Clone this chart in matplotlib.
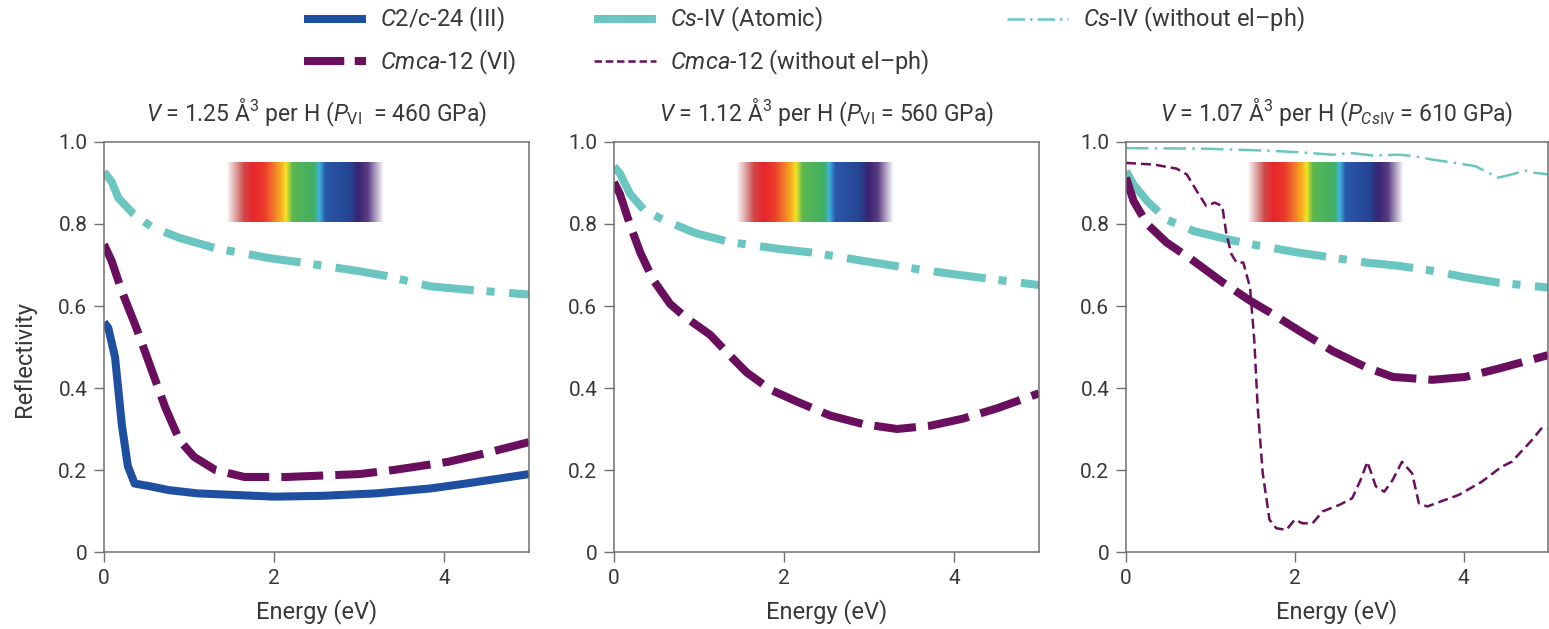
import numpy as np
import matplotlib
matplotlib.use("Agg")
import matplotlib.pyplot as plt
from matplotlib.colors import LinearSegmentedColormap
from matplotlib.lines import Line2D

plt.rcParams['font.family'] = ['Roboto', 'DejaVu Sans']
plt.rcParams['mathtext.fontset'] = 'custom'
plt.rcParams['mathtext.rm'] = 'Roboto'
plt.rcParams['mathtext.it'] = 'Roboto:italic'
plt.rcParams['mathtext.bf'] = 'Roboto:bold'

# ---- data (energy in eV, reflectivity) ----
# panel 1: V = 1.25 A^3 per H
p1_c2c_x = [0, 0.05, 0.13, 0.21, 0.28, 0.36, 0.55, 0.76, 1.1, 2.0, 2.57, 3.2, 3.84, 4.26, 5.0]
p1_c2c_y = [0.56, 0.547, 0.475, 0.31, 0.21, 0.167, 0.16, 0.151, 0.143, 0.135, 0.137, 0.143, 0.155, 0.167, 0.19]
p1_cmca_x = [0, 0.09, 0.21, 0.38, 0.55, 0.72, 0.89, 1.06, 1.31, 1.65, 2.15, 3.0, 3.41, 4.05, 4.47, 5.0]
p1_cmca_y = [0.75, 0.71, 0.636, 0.547, 0.45, 0.353, 0.272, 0.232, 0.2, 0.183, 0.183, 0.19, 0.2, 0.22, 0.24, 0.268]
p1_csiv_x = [0, 0.09, 0.17, 0.34, 0.55, 0.89, 1.31, 1.94, 2.36, 3.0, 3.33, 3.84, 4.26, 5.0]
p1_csiv_y = [0.927, 0.903, 0.863, 0.826, 0.794, 0.766, 0.741, 0.717, 0.705, 0.685, 0.673, 0.648, 0.64, 0.628]

# panel 2: V = 1.12 A^3 per H
p2_csiv_x = [0, 0.07, 0.19, 0.35, 0.58, 0.97, 1.36, 1.95, 2.35, 2.93, 3.33, 3.91, 4.5, 5.0]
p2_csiv_y = [0.94, 0.923, 0.873, 0.835, 0.81, 0.777, 0.756, 0.739, 0.73, 0.71, 0.697, 0.68, 0.664, 0.651]
p2_cmca_x = [0, 0.07, 0.19, 0.31, 0.46, 0.66, 0.85, 1.13, 1.36, 1.56, 1.84, 2.15, 2.54, 2.93, 3.33,
             3.72, 4.1, 4.5, 5.0]
p2_cmca_y = [0.902, 0.873, 0.797, 0.73, 0.664, 0.605, 0.571, 0.53, 0.48, 0.438, 0.396, 0.367, 0.333,
             0.312, 0.3, 0.308, 0.325, 0.35, 0.387]

# panel 3: V = 1.07 A^3 per H
p3_csiv_x = [0, 0.09, 0.25, 0.48, 0.8, 1.19, 1.58, 2.05, 2.45, 2.84, 3.23, 3.63, 4.02, 4.41, 5.0]
p3_csiv_y = [0.929, 0.896, 0.856, 0.811, 0.783, 0.763, 0.747, 0.73, 0.718, 0.706, 0.698, 0.686, 0.67,
             0.657, 0.645]
p3_cmca_x = [0, 0.09, 0.25, 0.48, 0.8, 1.15, 1.47, 1.74, 2.05, 2.45, 2.84, 3.16, 3.63, 4.02, 4.41, 5.0]
p3_cmca_y = [0.913, 0.856, 0.8, 0.755, 0.71, 0.657, 0.613, 0.58, 0.54, 0.49, 0.451, 0.427, 0.42, 0.427,
             0.447, 0.48]
p3_csiv_noep_x = [0, 0.88, 1.66, 2.05, 2.45, 2.68, 2.92, 3.23, 3.43, 3.63, 3.9, 4.14, 4.41, 4.57, 4.73,
                  4.84, 5.0]
p3_csiv_noep_y = [0.985, 0.984, 0.979, 0.975, 0.969, 0.973, 0.967, 0.969, 0.965, 0.957, 0.949, 0.941,
                  0.913, 0.921, 0.93, 0.925, 0.921]
p3_cmca_noep_x = [0, 0.33, 0.6, 0.72, 0.84, 0.95, 1.05, 1.14, 1.19, 1.25, 1.31, 1.39, 1.47, 1.52, 1.56,
                  1.62, 1.7, 1.78, 1.9, 2.0, 2.09, 2.21, 2.33, 2.53, 2.68, 2.78, 2.86, 2.96, 3.06, 3.16,
                  3.27, 3.39, 3.47, 3.57, 3.78, 3.94, 4.22, 4.45, 4.57, 4.81, 4.92, 5.0]
p3_cmca_noep_y = [0.949, 0.945, 0.935, 0.921, 0.88, 0.844, 0.852, 0.844, 0.775, 0.726, 0.706, 0.706,
                  0.645, 0.516, 0.354, 0.192, 0.079, 0.058, 0.054, 0.079, 0.07, 0.07, 0.099, 0.115,
                  0.131, 0.176, 0.22, 0.16, 0.147, 0.176, 0.22, 0.192, 0.119, 0.111, 0.127, 0.139,
                  0.172, 0.208, 0.22, 0.273, 0.301, 0.301]

titles = [r'$V$ = 1.25 Å$^{3}$ per H ($P_{\mathrm{VI}}$  = 460 GPa)',
          r'$V$ = 1.12 Å$^{3}$ per H ($P_{\mathrm{VI}}$ = 560 GPa)',
          r'$V$ = 1.07 Å$^{3}$ per H ($P_{Cs\mathrm{IV}}$ = 610 GPa)']
xticks = [0, 2, 4]
yticks = [0, 0.2, 0.4, 0.6, 0.8, 1.0]
ytick_labels = ['0', '0.2', '0.4', '0.6', '0.8', '1.0']

# visible-light strip drawn in each panel
spec_extent = (1.43, 3.28, 0.805, 0.95)
spec_stops = [(0.0, '#ffffff'), (0.06, '#dca0a0'), (0.11, '#d04848'), (0.17, '#e8262c'),
              (0.24, '#ea3a2c'), (0.30, '#f2782a'), (0.35, '#f8b020'), (0.38, '#f4e424'),
              (0.42, '#5cb850'), (0.56, '#3fae66'), (0.59, '#40b4e0'), (0.63, '#2a58a8'),
              (0.78, '#244694'), (0.84, '#3a2472'), (0.90, '#5a3c82'), (1.0, '#ffffff')]

blue = '#1f4fa0'
teal = '#6bc6c1'
purple = '#6a0f5e'
grey = '#707070'
txt = '#383838'

fig = plt.figure(figsize=(15.49, 6.29), dpi=100)
W, H = 1549, 629
lefts = [104, 614, 1126]
widths = [425, 425, 422]
axes = [fig.add_axes([l / W, 77 / H, w / W, 410 / H]) for l, w in zip(lefts, widths)]

thick = 5.8
thin = 1.8
dash_thick = (5.2, 1.5)
dashdot_thick = (6.5, 1.6, 1.0, 1.8)
dash_thin = (4, 2)
dashdot_thin = (9, 2.5, 1, 2.5)

cmap = LinearSegmentedColormap.from_list('spec', spec_stops)
strip = cmap(np.linspace(0, 1, 400))[np.newaxis, :, :]

for ax in axes:
    ax.imshow(strip, extent=spec_extent, aspect='auto', interpolation='bilinear', zorder=0.5)

ax1, ax2, ax3 = axes
ax1.plot(p1_csiv_x, p1_csiv_y, color=teal, lw=thick, dashes=dashdot_thick, dash_capstyle='butt')
ax1.plot(p1_cmca_x, p1_cmca_y, color=purple, lw=thick, dashes=dash_thick, dash_capstyle='butt')
ax1.plot(p1_c2c_x, p1_c2c_y, color=blue, lw=thick, solid_capstyle='butt')

ax2.plot(p2_csiv_x, p2_csiv_y, color=teal, lw=thick, dashes=dashdot_thick, dash_capstyle='butt')
ax2.plot(p2_cmca_x, p2_cmca_y, color=purple, lw=thick, dashes=dash_thick, dash_capstyle='butt')

ax3.plot(p3_csiv_noep_x, p3_csiv_noep_y, color=teal, lw=thin, dashes=dashdot_thin)
ax3.plot(p3_csiv_x, p3_csiv_y, color=teal, lw=thick, dashes=dashdot_thick, dash_capstyle='butt')
ax3.plot(p3_cmca_x, p3_cmca_y, color=purple, lw=thick, dashes=dash_thick, dash_capstyle='butt')
ax3.plot(p3_cmca_noep_x, p3_cmca_noep_y, color=purple, lw=thin, dashes=dash_thin)

for i, ax in enumerate(axes):
    ax.set_xlim(0, 5)
    ax.set_ylim(0, 1)
    ax.set_xticks(xticks)
    ax.set_xticklabels([str(t) for t in xticks])
    ax.set_yticks(yticks)
    ax.set_yticklabels(ytick_labels)
    ax.tick_params(direction='out', length=7, width=1, color=grey, labelcolor=txt,
                   labelsize=15, pad=5)
    for s in ax.spines.values():
        s.set_color(grey)
        s.set_linewidth(1.1)
    ax.set_title(titles[i], fontsize=16.5, color=txt, pad=15)
    ax.set_xlabel('Energy (eV)', fontsize=17, color=txt, labelpad=8)

ax1.set_ylabel('Reflectivity', fontsize=17, color=txt)
ax1.yaxis.set_label_coords(-0.16, 0.47)

handles = [
    Line2D([], [], color=blue, lw=thick, solid_capstyle='butt'),
    Line2D([], [], color=purple, lw=thick, dashes=(5, 1.3), dash_capstyle='butt'),
    Line2D([], [], color=teal, lw=thick, solid_capstyle='butt'),
    Line2D([], [], color=purple, lw=thin, dashes=(3, 1.5)),
    Line2D([], [], color=teal, lw=thin, dashes=(7, 2, 1, 2)),
]
labels = [r'$C$2/$c$-24 (III)', r'$Cmca$-12 (VI)', r'$Cs$-IV (Atomic)',
          r'$Cmca$-12 (without el–ph)', r'$Cs$-IV (without el–ph)']
leg = fig.legend(handles, labels, ncol=3, loc='upper left', bbox_to_anchor=(290 / W, 1.014),
                 frameon=False, fontsize=17, handlelength=2.6, handletextpad=0.6,
                 columnspacing=3.3, labelspacing=0.55, borderaxespad=0.2)
for t in leg.get_texts():
    t.set_color(txt)

fig.savefig('out.png', dpi=100)
